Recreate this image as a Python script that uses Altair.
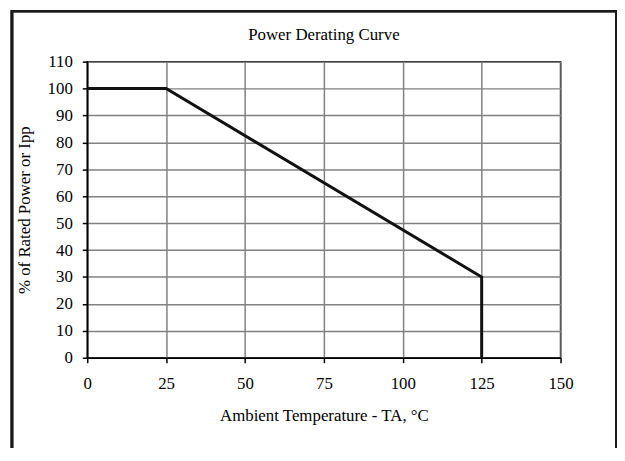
import altair as alt
import pandas as pd

# Data
temp = [0, 25, 125, 125]
power = [100, 100, 30, 0]
x_ticks = [0, 25, 50, 75, 100, 125, 150]
y_ticks = [0, 10, 20, 30, 40, 50, 60, 70, 80, 90, 100, 110]
title_text = ["Power Derating Curve"]

df = pd.DataFrame({"temp": temp, "power": power, "order": list(range(len(temp)))})
tdf = pd.DataFrame({"t": title_text})

FONT = "Liberation Serif"
W, H = 478, 299

line = alt.Chart(df).mark_line(color="#111111", strokeWidth=3).encode(
    x=alt.X("temp:Q",
            scale=alt.Scale(domain=[0, 150], nice=False, zero=False),
            axis=alt.Axis(values=x_ticks, title="Ambient Temperature - TA, °C",
                          labelPadding=13, titlePadding=16, tickSize=5)),
    y=alt.Y("power:Q",
            scale=alt.Scale(domain=[0, 110], nice=False),
            axis=alt.Axis(values=y_ticks, title="% of Rated Power or Ipp",
                          labelPadding=10, titlePadding=14, tickSize=5)),
    order="order:O",
)

border = alt.Chart(df).mark_rect(fill=None, stroke="#1a1a1a", strokeWidth=2.5).encode(
    x=alt.value(-76), x2=alt.value(534.5), y=alt.value(-51), y2=alt.value(420)
)

title = alt.Chart(tdf).mark_text(font=FONT, fontSize=17, color="black",
                                 align="center", baseline="alphabetic").encode(
    text="t:N", x=alt.value(W / 2), y=alt.value(-22)
)

chart = alt.layer(line, border, title).properties(
    width=W, height=H,
    autosize=alt.AutoSizeParams(type="none"),
    padding={"left": 80, "top": 52, "right": 57, "bottom": 89},
).configure_axis(
    labelFont=FONT, labelFontSize=17, labelColor="black",
    titleFont=FONT, titleFontSize=17, titleFontWeight="normal", titleColor="black",
    grid=True, gridColor="#808080", gridWidth=1.5, gridOpacity=1,
    domainColor="black", domainWidth=1.5, tickColor="black", tickWidth=1.5,
    labelFlush=False, labelOverlap=False,
).configure_view(stroke="black", strokeWidth=1.5)

chart.save("out.html", embed_options={"renderer": "svg", "actions": False})
